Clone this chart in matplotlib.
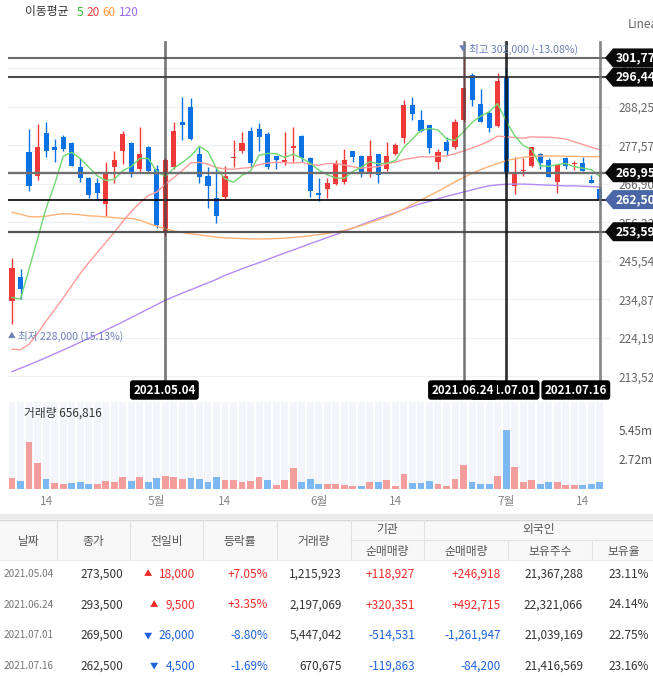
import numpy as np
import pandas as pd
import matplotlib
matplotlib.use('Agg')
import matplotlib.pyplot as plt
from matplotlib.patches import Rectangle, Polygon

plt.rcParams['font.family'] = ['Noto Sans CJK KR', 'DejaVu Sans']

# ---------------- data (prices in thousand won) ----------------
dates = pd.bdate_range('2021-04-08', '2021-07-16', freq='C',
                       holidays=['2021-05-05', '2021-05-19'])

opens = [234.5, 241.0, 275.8, 269.0, 281.0, 277.1, 279.9, 278.1, 271.5, 268.5,
         267.0, 261.4, 271.5, 276.0, 278.3, 270.9, 277.1, 271.0, 253.8, 271.5,
         284.0, 288.2, 275.1, 269.0, 263.0, 263.1, 273.9, 276.0, 281.5, 282.1,
         280.7, 274.6, 272.7, 276.9, 280.1, 274.1, 264.1, 265.5, 266.8, 267.5,
         276.0, 274.5, 270.1, 275.1, 270.9, 275.0, 279.7, 288.7, 284.6, 283.2,
         273.0, 278.5, 277.0, 284.5, 297.0, 289.0, 286.4, 283.0, 296.8, 266.4,
         270.3, 271.8, 275.1, 273.5, 267.5, 274.1, 272.3, 272.6, 267.9, 265.4]
highs = [246.2, 243.2, 282.0, 283.5, 283.9, 279.2, 280.4, 278.6, 274.0, 268.9,
         268.4, 272.9, 276.0, 281.4, 278.6, 282.5, 277.4, 272.1, 274.0, 284.1,
         291.0, 290.6, 277.2, 271.5, 271.6, 271.8, 279.0, 281.3, 282.5, 283.7,
         281.1, 274.7, 281.1, 282.5, 280.4, 274.3, 268.4, 268.4, 273.5, 276.4,
         276.0, 274.9, 279.0, 275.2, 278.6, 278.1, 290.1, 291.0, 287.3, 283.3,
         276.4, 279.9, 284.8, 302.0, 297.5, 293.1, 287.1, 297.5, 298.9, 274.4,
         274.0, 277.2, 275.5, 274.1, 272.4, 274.4, 273.2, 274.4, 269.3, 266.0]
lows = [228.0, 234.9, 265.0, 267.9, 274.4, 273.0, 276.0, 271.8, 267.5, 262.9,
        262.4, 258.0, 267.0, 272.4, 268.9, 270.2, 270.2, 254.6, 252.5, 271.0,
        279.0, 279.0, 267.0, 260.1, 255.9, 262.4, 271.5, 275.5, 271.5, 276.0,
        270.9, 270.9, 272.1, 273.0, 273.0, 263.1, 262.2, 263.0, 266.5, 266.8,
        273.0, 268.9, 268.9, 267.0, 270.5, 274.9, 278.1, 284.6, 281.3, 275.5,
        270.9, 274.9, 276.5, 284.0, 288.5, 284.0, 281.1, 282.5, 268.4, 264.0,
        269.0, 271.5, 271.0, 268.8, 264.4, 270.9, 270.7, 270.4, 267.0, 261.0]
closes = [243.5, 237.7, 266.4, 277.1, 276.0, 276.3, 276.6, 271.9, 268.6, 263.9,
          264.4, 270.2, 273.5, 280.6, 270.0, 275.1, 270.4, 255.5, 273.5, 281.5,
          283.3, 279.2, 268.9, 266.3, 258.0, 269.0, 274.2, 278.3, 272.7, 279.9,
          271.6, 273.5, 273.5, 277.1, 274.1, 265.0, 263.9, 267.0, 272.6, 273.5,
          274.4, 270.1, 274.6, 269.4, 274.6, 277.6, 288.7, 286.1, 281.5, 276.9,
          275.8, 276.1, 284.0, 293.5, 290.1, 284.1, 282.4, 295.5, 269.5, 269.6,
          270.6, 277.0, 272.6, 268.9, 272.1, 271.8, 272.6, 270.5, 267.0, 262.5]

ma5 = [235.4, 234.9, 243.2, 251.6, 260.1, 266.7, 274.5, 275.6, 273.9, 271.5,
       269.1, 267.8, 268.1, 270.5, 271.7, 273.9, 273.9, 270.3, 268.9, 271.2,
       272.8, 274.6, 277.3, 275.8, 271.1, 268.3, 267.3, 269.2, 270.4, 274.8,
       275.3, 275.2, 274.2, 275.1, 274.0, 272.6, 270.7, 269.4, 268.5, 268.4,
       270.3, 271.5, 273.0, 272.4, 272.6, 273.3, 277.0, 279.3, 281.7, 282.2,
       281.8, 279.3, 278.9, 281.3, 283.9, 285.6, 286.8, 289.1, 284.3, 280.2,
       277.5, 276.4, 271.9, 271.7, 272.2, 272.5, 271.6, 271.2, 270.8, 268.9]
ma20 = [221.0, 220.9, 222.4, 225.4, 228.8, 232.0, 235.2, 238.6, 242.0, 245.0,
        247.8, 250.6, 253.4, 256.4, 259.2, 261.6, 263.6, 264.6, 266.8, 268.6,
        270.6, 272.7, 272.8, 272.3, 271.4, 271.0, 270.9, 271.2, 271.4, 272.2,
        272.6, 272.8, 272.8, 272.6, 272.8, 272.3, 272.0, 272.5, 272.5, 272.1,
        271.6, 271.2, 271.5, 271.6, 272.5, 272.9, 273.6, 274.0, 274.4, 274.3,
        274.5, 274.6, 275.2, 276.0, 276.8, 277.7, 278.7, 280.1, 279.9, 279.7,
        279.5, 279.9, 279.8, 279.8, 279.6, 279.3, 278.5, 277.8, 277.0, 276.3]
ma60 = [259.0, 258.4, 257.8, 257.7, 257.9, 258.3, 258.6, 258.5, 258.3, 258.0,
        257.9, 257.7, 257.5, 257.3, 257.3, 256.8, 255.9, 255.1, 254.4, 253.8,
        253.4, 253.0, 252.7, 252.4, 252.1, 251.9, 251.8, 251.7, 251.6, 251.6,
        251.6, 251.7, 251.8, 252.0, 252.2, 252.5, 252.8, 253.1, 253.5, 254.0,
        254.6, 255.3, 256.1, 256.9, 257.8, 258.8, 259.9, 261.2, 262.4, 263.6,
        264.8, 266.1, 267.4, 268.6, 269.8, 270.8, 271.7, 272.5, 273.3, 273.8,
        274.2, 274.5, 274.6, 274.6, 274.6, 274.5, 274.5, 274.4, 274.4, 274.4]
ma120 = [214.8, 215.75, 216.7, 217.7, 218.7, 219.75, 220.8, 221.85, 222.95, 224.05,
         225.15, 226.3, 227.45, 228.6, 229.8, 231.0, 232.2, 233.4, 234.6, 235.6,
         236.6, 237.5, 238.5, 239.4, 240.4, 241.5, 242.4, 243.3, 244.2, 245.0,
         245.9, 246.8, 247.7, 248.5, 249.4, 250.3, 251.1, 252.0, 252.8, 253.7,
         254.6, 255.5, 256.4, 257.3, 258.1, 258.9, 259.8, 260.6, 261.4, 262.0,
         262.7, 263.4, 264.0, 264.6, 265.2, 265.8, 266.3, 266.6, 266.75, 266.8,
         266.8, 266.7, 266.6, 266.5, 266.4, 266.3, 266.3, 266.2, 266.1, 266.0]

# volume in millions of shares, colour direction
volumes = [1.01, 0.77, 4.29, 2.39, 0.92, 0.55, 0.46, 0.55, 0.67, 0.46,
           0.46, 0.77, 0.64, 1.10, 0.77, 1.10, 0.64, 1.01, 1.216, 1.10,
           0.92, 1.01, 0.92, 0.64, 1.10, 0.86, 0.86, 0.64, 0.77, 1.10,
           0.86, 0.37, 0.86, 1.93, 0.64, 0.92, 0.46, 0.46, 0.46, 0.37,
           0.25, 0.25, 0.64, 0.64, 0.86, 0.31, 1.38, 0.55, 0.55, 0.77,
           0.46, 0.31, 0.92, 2.197, 0.67, 0.46, 0.46, 1.22, 5.447, 2.02,
           0.67, 0.86, 0.46, 0.67, 0.64, 0.37, 0.37, 0.37, 0.46, 0.671]
vol_up = [1, 0, 1, 1, 0, 1, 1, 0, 0, 0,
          1, 1, 1, 1, 0, 1, 0, 0, 1, 1,
          1, 0, 0, 0, 0, 1, 1, 1, 1, 1,
          0, 1, 1, 1, 0, 0, 0, 1, 1, 1,
          1, 0, 1, 0, 1, 1, 1, 0, 0, 0,
          1, 1, 1, 1, 0, 0, 0, 1, 0, 1,
          1, 1, 0, 0, 1, 1, 1, 0, 0, 0]

price_ticks = [213.52, 224.19, 234.87, 245.54, 256.22, 266.90, 277.57, 288.25, 298.93]
hline_prices = [301.77, 296.44, 269.95, 262.50, 253.59]
vol_ticks = [2.72, 5.45]
month_ticks = ['2021-04-14', '2021-05-03', '2021-05-14', '2021-06-01',
               '2021-06-14', '2021-07-01', '2021-07-14']
month_labels = ['14', '5월', '14', '6월', '14', '7월', '14']
cross_dates = ['2021-05-04', '2021-06-24', '2021-07-01', '2021-07-16']
current_volume_label = '거래량 656,816'

tbl_dates = ['2021.05.04', '2021.06.24', '2021.07.01', '2021.07.16']
tbl_close = [273500, 293500, 269500, 262500]
tbl_change = [18000, 9500, -26000, -4500]
tbl_rate = [7.05, 3.35, -8.80, -1.69]
tbl_volume = [1215923, 2197069, 5447042, 670675]
tbl_inst = [118927, 320351, -514531, -119863]
tbl_foreign = [246918, 492715, -1261947, -84200]
tbl_hold = [21367288, 22321066, 21039169, 21416569]
tbl_ratio = [23.11, 24.14, 22.75, 23.16]

# ---------------- figure ----------------
W, H = 653, 680
fig = plt.figure(figsize=(W / 100, H / 100), dpi=100)
fig.patch.set_facecolor('white')


def rect(x0, y0, x1, y1):
    return [x0 / W, 1 - y1 / H, (x1 - x0) / W, (y1 - y0) / H]


n = len(dates)
x = np.arange(n)
XL = (-0.47, 70.19)

RED, BLUE = '#f03a3a', '#0c72e4'

# ---- price panel ----
ax = fig.add_axes(rect(8, 40, 610, 398))
ax.set_xlim(*XL)
ax.set_ylim(207.5, 306.74)
for s in ax.spines.values():
    s.set_visible(False)
ax.set_xticks([])
ax.yaxis.tick_right()
ax.set_yticks(price_ticks)
ax.set_yticklabels([f"{t:.2f}".replace('.', ',') for t in price_ticks])
ax.tick_params(axis='y', length=0, pad=6, labelsize=8.5, labelcolor='#666666')
for t in price_ticks:
    ax.axhline(t, color='#eef0f6', lw=0.9, zorder=0)

o, h, l, c = map(np.array, (opens, highs, lows, closes))
cols = np.where(c >= o, RED, BLUE)
ax.vlines(x, l, h, colors=cols, lw=1.0, zorder=3)
ax.bar(x, np.maximum(np.abs(c - o), 0.35), bottom=np.minimum(o, c), width=0.6,
       color=cols, linewidth=0, zorder=4)

ax.plot(x, ma120, color='#b48af2', lw=1.0, zorder=5)
ax.plot(x, ma60, color='#ffb278', lw=1.0, zorder=5)
ax.plot(x, ma20, color='#ff9a9a', lw=1.0, zorder=5)
ax.plot(x, ma5, color='#70d870', lw=1.0, zorder=5)

# crosshair horizontal lines
h_styles = [('#6a6a6a', 1.5), ('#4a4a4a', 1.5), ('#707070', 1.7), ('#000000', 1.2), ('#555555', 1.6)]
for p, (cl, lw) in zip(hline_prices, h_styles):
    ax.axhline(p, color=cl, lw=lw, zorder=6)

# crosshair vertical lines
v_styles = [('#444444', 2.0, 0.7), ('#444444', 1.8, 0.75), ('#111111', 2.0, 0.85), ('#777777', 2.0, 0.85)]
cross_idx = [dates.get_loc(pd.Timestamp(d)) for d in cross_dates]
for i, (cl, lw, al) in zip(cross_idx, v_styles):
    ax.axvline(i, ymin=(398 - 382) / 358, ymax=(398 - 42) / 358, color=cl, lw=lw,
               alpha=al, zorder=7)

# high / low markers
i_hi = int(np.argmax(h))
i_lo = int(np.argmin(l))
last = c[-1]
MK = '#6a7fb8'
ax.annotate(f"▼", xy=(i_hi, h[i_hi]), xytext=(-1, 8), textcoords='offset pixels',
            ha='center', va='center', fontsize=5.5, color=MK, zorder=8, annotation_clip=False)
ax.annotate(f"최고 {h[i_hi]*1000:,.0f} ({(last - h[i_hi]) / h[i_hi] * 100:.2f}%)",
            xy=(i_hi, h[i_hi]), xytext=(5, 8), textcoords='offset pixels',
            ha='left', va='center', fontsize=7.6, color=MK, zorder=8,
            annotation_clip=False)
ax.annotate(f"▲", xy=(i_lo, l[i_lo]), xytext=(0, -12), textcoords='offset pixels',
            ha='center', va='center', fontsize=5.5, color=MK, zorder=8, annotation_clip=False)
ax.annotate(f"최저 {l[i_lo]*1000:,.0f} ({(last - l[i_lo]) / l[i_lo] * 100:.2f}%)",
            xy=(i_lo, l[i_lo]), xytext=(6, -12), textcoords='offset pixels',
            ha='left', va='center', fontsize=7.6, color=MK, zorder=8,
            annotation_clip=False)

# ---- volume panel ----
axv = fig.add_axes(rect(8, 402, 610, 489))
axv.set_xlim(*XL)
VMAX = 8.0
axv.set_ylim(0, VMAX)
for s in axv.spines.values():
    s.set_visible(False)
axv.bar(x, np.full(n, VMAX), width=0.82, color='#f3f5fa', linewidth=0, zorder=0)
axv.bar(x, volumes, width=0.8, linewidth=0, zorder=2,
        color=np.where(np.array(vol_up) == 1, '#f39d9d', '#7eb8f2'))
axv.yaxis.tick_right()
axv.set_yticks(vol_ticks)
axv.set_yticklabels([f"{v:.2f}m" for v in vol_ticks])
axv.tick_params(axis='y', length=0, pad=6, labelsize=8.5, labelcolor='#555555')
axv.set_xticks([dates.get_loc(pd.Timestamp(d)) for d in month_ticks])
axv.set_xticklabels(month_labels)
axv.tick_params(axis='x', length=0, pad=4, labelsize=8.5, labelcolor='#888888')

# ---- overlay (pixel coordinates, y downward) ----
ov = fig.add_axes([0, 0, 1, 1], zorder=10)
ov.set_xlim(0, W)
ov.set_ylim(H, 0)
ov.axis('off')
ov.patch.set_alpha(0)


def ypx(p):
    return H - ax.transData.transform((0, p))[1]


def xpx(i):
    return ax.transData.transform((i, 0))[0]


# legend
ov.text(25, 12, '이동평균', fontsize=8.5, color='#333333', va='center', ha='left')
for tx, xx, cl in [('5', 77, '#2db82d'), ('20', 86, '#f03a3a'), ('60', 102, '#ff9a40'),
                   ('120', 119, '#9a6cf0')]:
    ov.text(xx, 12, tx, fontsize=8.5, color=cl, va='center', ha='left')
ov.text(628, 25, 'Linear', fontsize=8.5, color='#666666', va='center', ha='left')

# right-side price boxes
for p in hline_prices:
    yc = ypx(p)
    fc = '#4a66a6' if p == closes[-1] else '#0a0a0a'
    ov.add_patch(Polygon([(605, yc), (613, yc - 9.5), (660, yc - 9.5), (660, yc + 9.5),
                          (613, yc + 9.5)], closed=True, fc=fc, ec='none', zorder=5))
    ov.text(616, yc, f"{p:.2f}".replace('.', ','), color='white', fontsize=8.8,
            fontweight='bold', va='center', ha='left', zorder=6)

# date boxes under crosshairs
box = dict(boxstyle='round,pad=0.28,rounding_size=0.25', fc='black', ec='none')
zs = [11, 12, 11, 11]
for k, (d, i) in enumerate(zip(cross_dates, cross_idx)):
    lbl = d.replace('-', '.')
    xc = xpx(i)
    if k == len(cross_dates) - 1:
        ov.text(607, 390, lbl, ha='right', va='center', color='white', fontsize=8.3,
                fontweight='bold', bbox=box, zorder=zs[k])
    else:
        ov.text(xc - 1, 390, lbl, ha='center', va='center', color='white', fontsize=8.3,
                fontweight='bold', bbox=box, zorder=zs[k])

ov.text(24, 413, current_volume_label, fontsize=8.5, color='#333333', va='center', ha='left')

# separator band
ov.add_patch(Rectangle((0, 514), W, 5, fc='#ebebeb', ec='none'))

# ---- table ----
ov.add_patch(Rectangle((0, 519), W, 41, fc='#f8f8f8', ec='none'))
ov.plot([0, W], [519.5, 519.5], color='#d8d8d8', lw=1)
ov.plot([0, W], [560, 560], color='#eeeeee', lw=0.8)
ov.plot([350.7, W], [540, 540], color='#e2e2e2', lw=0.8)
for xs in [56.7, 130, 202.7, 276.7, 350.7, 424]:
    ov.plot([xs, xs], [520, 560], color='#e2e2e2', lw=0.8)
for xs in [508.3, 591.7]:
    ov.plot([xs, xs], [540, 560], color='#e2e2e2', lw=0.8)

HC = '#555555'
for tx, xx in [('날짜', 28.5), ('종가', 93.3), ('전일비', 166.5), ('등락률', 239.7), ('거래량', 313.7)]:
    ov.text(xx, 541, tx, ha='center', va='center', fontsize=8.5, color=HC)
ov.text(387.3, 530, '기관', ha='center', va='center', fontsize=8.5, color=HC)
ov.text(538.5, 530, '외국인', ha='center', va='center', fontsize=8.5, color=HC)
for tx, xx in [('순매매량', 387.3), ('순매매량', 466), ('보유주수', 550), ('보유율', 624)]:
    ov.text(xx, 551, tx, ha='center', va='center', fontsize=8.5, color=HC)

row_y = [574, 605, 635.5, 666]
TR, TB, TK = '#f22a2a', '#1f62dc', '#333333'


def sgn_col(v):
    return TR if v > 0 else TB


renderer = fig.canvas.get_renderer()
for r in range(len(tbl_dates)):
    y = row_y[r]
    ov.text(29, y, tbl_dates[r], ha='center', va='center', fontsize=7.2, color='#777777')
    ov.text(123, y, f"{tbl_close[r]:,}", ha='right', va='center', fontsize=8.5, color=TK)
    ch = tbl_change[r]
    t = ov.text(195, y, f"{abs(ch):,}", ha='right', va='center', fontsize=8.5,
                color=sgn_col(ch))
    x_left = t.get_window_extent(renderer).x0
    ov.text(x_left - 7, y, '▲' if ch > 0 else '▼', ha='right', va='center',
            fontsize=6, color=sgn_col(ch))
    ov.text(268, y, f"{tbl_rate[r]:+.2f}%", ha='right', va='center', fontsize=8.5,
            color=sgn_col(tbl_rate[r]))
    ov.text(342, y, f"{tbl_volume[r]:,}", ha='right', va='center', fontsize=8.5, color=TK)
    ov.text(415, y, f"{tbl_inst[r]:+,}", ha='right', va='center', fontsize=8.5,
            color=sgn_col(tbl_inst[r]))
    ov.text(501, y, f"{tbl_foreign[r]:+,}", ha='right', va='center', fontsize=8.5,
            color=sgn_col(tbl_foreign[r]))
    ov.text(583, y, f"{tbl_hold[r]:,}", ha='right', va='center', fontsize=8.5, color=TK)
    ov.text(649, y, f"{tbl_ratio[r]:.2f}%", ha='right', va='center', fontsize=8.5, color=TK)

fig.savefig('out.png', dpi=100)
